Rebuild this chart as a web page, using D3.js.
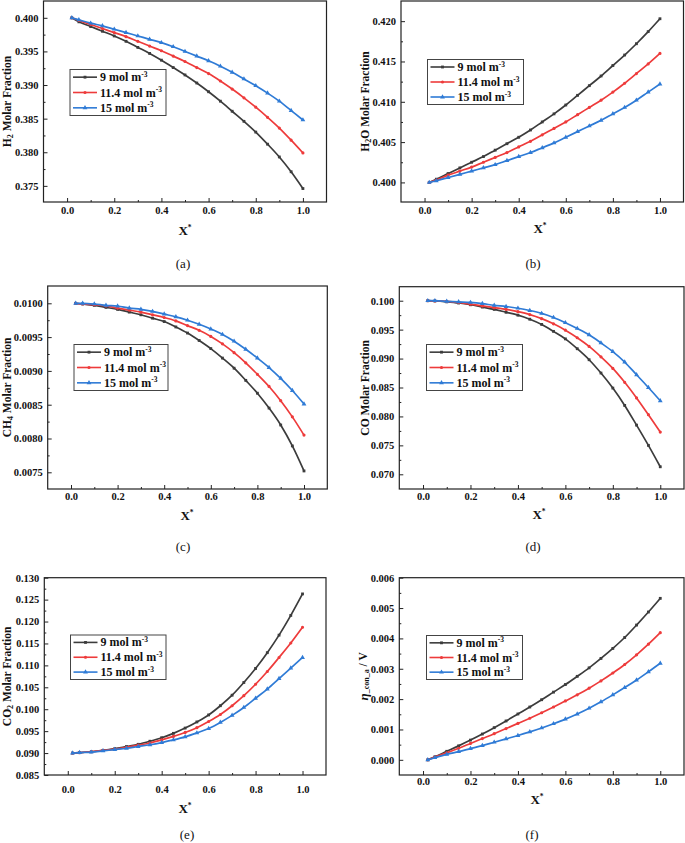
<!DOCTYPE html>
<html>
<head>
<meta charset="utf-8">
<script src="https://cdn.jsdelivr.net/npm/d3@7"></script>
<style>
  body { margin: 0; background: #fff; }
  svg { display: block; }
  text { font-family: "Liberation Serif", "Times New Roman", serif; }
</style>
</head>
<body>
<svg id="chart" width="685" height="843" font-family="Liberation Serif, Times New Roman, serif"></svg>
<script>
// dimensionless position along the channel
const xStar = [0.02, 0.05, 0.10, 0.15, 0.20, 0.25, 0.30, 0.35, 0.40, 0.45, 0.50,
               0.55, 0.60, 0.65, 0.70, 0.75, 0.80, 0.85, 0.90, 0.95, 1.00];

const seriesLabels = ["9 mol m", "11.4 mol m", "15 mol m"];

// (a) H2
const h2_9   = [0.4000, 0.3994, 0.3987, 0.3980, 0.3973, 0.3965, 0.3956, 0.3947, 0.3937, 0.3926, 0.3915,
                0.3903, 0.3890, 0.3876, 0.3861, 0.3846, 0.3830, 0.3812, 0.3793, 0.3771, 0.3746];
const h2_114 = [0.4000, 0.3996, 0.3990, 0.3984, 0.3978, 0.3972, 0.3965, 0.3958, 0.3951, 0.3943, 0.3935,
                0.3926, 0.3917, 0.3906, 0.3894, 0.3881, 0.3867, 0.3852, 0.3836, 0.3818, 0.3799];
const h2_15  = [0.4000, 0.3997, 0.3992, 0.3988, 0.3983, 0.3978, 0.3973, 0.3968, 0.3963, 0.3957, 0.3950,
                0.3943, 0.3936, 0.3928, 0.3919, 0.3909, 0.3899, 0.3888, 0.3876, 0.3862, 0.3848];

// (b) H2O
const h2o_9   = [0.4000, 0.4004, 0.4011, 0.4018, 0.4025, 0.4032, 0.4040, 0.4048, 0.4056, 0.4065, 0.4075,
                 0.4085, 0.4096, 0.4108, 0.4120, 0.4132, 0.4145, 0.4158, 0.4172, 0.4187, 0.4203];
const h2o_114 = [0.4000, 0.4003, 0.4009, 0.4014, 0.4019, 0.4025, 0.4031, 0.4037, 0.4044, 0.4051, 0.4059,
                 0.4067, 0.4075, 0.4084, 0.4093, 0.4102, 0.4112, 0.4123, 0.4135, 0.4147, 0.4160];
const h2o_15  = [0.4000, 0.4002, 0.4006, 0.4010, 0.4014, 0.4018, 0.4022, 0.4027, 0.4032, 0.4037, 0.4043,
                 0.4049, 0.4056, 0.4063, 0.4070, 0.4077, 0.4085, 0.4093, 0.4102, 0.4112, 0.4122];

// (c) CH4
const ch4_9   = [0.01000, 0.00999, 0.00997, 0.00994, 0.00991, 0.00987, 0.00983, 0.00978, 0.00973, 0.00965, 0.00956,
                 0.00945, 0.00933, 0.00919, 0.00904, 0.00886, 0.00867, 0.00845, 0.00820, 0.00789, 0.00752];
const ch4_114 = [0.01000, 0.00999, 0.00998, 0.00996, 0.00993, 0.00990, 0.00987, 0.00983, 0.00979, 0.00974, 0.00967,
                 0.00960, 0.00951, 0.00940, 0.00927, 0.00912, 0.00895, 0.00877, 0.00856, 0.00832, 0.00805];
const ch4_15  = [0.01000, 0.01000, 0.00999, 0.00997, 0.00996, 0.00993, 0.00991, 0.00988, 0.00984, 0.00980, 0.00975,
                 0.00969, 0.00962, 0.00954, 0.00944, 0.00932, 0.00919, 0.00905, 0.00889, 0.00871, 0.00851];

// (d) CO
const co_9   = [0.1000, 0.09995, 0.0998, 0.0996, 0.0993, 0.0989, 0.0985, 0.0980, 0.0975, 0.0968, 0.0959,
                0.0947, 0.0934, 0.0917, 0.0898, 0.0875, 0.0849, 0.0819, 0.0785, 0.0750, 0.0713];
const co_114 = [0.1000, 0.09997, 0.0999, 0.0997, 0.0994, 0.0991, 0.0988, 0.0985, 0.0981, 0.0976, 0.0969,
                0.0960, 0.0949, 0.0936, 0.0921, 0.0903, 0.0883, 0.0859, 0.0832, 0.0803, 0.0773];
const co_15  = [0.1000, 0.1000, 0.0999, 0.0998, 0.0997, 0.0995, 0.0992, 0.0990, 0.0987, 0.0983, 0.0978,
                0.0971, 0.0962, 0.0952, 0.0941, 0.0927, 0.0912, 0.0894, 0.0872, 0.0850, 0.0827];

// (e) CO2
const co2_9   = [0.0900, 0.0901, 0.0903, 0.0906, 0.0910, 0.0915, 0.0920, 0.0927, 0.0935, 0.0945, 0.0957,
                 0.0971, 0.0987, 0.1008, 0.1032, 0.1061, 0.1093, 0.1129, 0.1169, 0.1214, 0.1263];
const co2_114 = [0.0900, 0.0901, 0.0903, 0.0906, 0.0909, 0.0913, 0.0918, 0.0923, 0.0930, 0.0938, 0.0947,
                 0.0958, 0.0972, 0.0988, 0.1008, 0.1031, 0.1057, 0.1086, 0.1118, 0.1151, 0.1187];
const co2_15  = [0.0900, 0.0901, 0.0902, 0.0905, 0.0908, 0.0911, 0.0915, 0.0919, 0.0924, 0.0930, 0.0937,
                 0.0946, 0.0956, 0.0970, 0.0986, 0.1004, 0.1025, 0.1046, 0.1070, 0.1094, 0.1118];

// (f) anode concentration overpotential
const eta_9   = [0.00000, 0.00010, 0.00028, 0.00046, 0.00065, 0.00085, 0.00106, 0.00128, 0.00151, 0.00174, 0.00198,
                 0.00223, 0.00248, 0.00275, 0.00303, 0.00334, 0.00367, 0.00403, 0.00444, 0.00487, 0.00532];
const eta_114 = [0.00000, 0.00009, 0.00023, 0.00038, 0.00054, 0.00070, 0.00086, 0.00103, 0.00120, 0.00137, 0.00155,
                 0.00174, 0.00194, 0.00214, 0.00236, 0.00260, 0.00286, 0.00314, 0.00346, 0.00381, 0.00419];
const eta_15  = [0.00000, 0.00007, 0.00018, 0.00027, 0.00037, 0.00047, 0.00058, 0.00069, 0.00080, 0.00092, 0.00105,
                 0.00119, 0.00134, 0.00151, 0.00170, 0.00191, 0.00214, 0.00238, 0.00263, 0.00290, 0.00318];

const xTicks = [0, 0.2, 0.4, 0.6, 0.8, 1.0];
const xMinor = [0.1, 0.3, 0.5, 0.7, 0.9];

const colors = ["#3c3c3c", "#ee3b3b", "#2f7bd6"];
const symbols = [d3.symbolSquare, d3.symbolCircle, d3.symbolTriangle];

// panel layouts (frame box, y range, label spots)
const panels = [
  { tag: "(a)", series: [h2_9, h2_114, h2_15], l: 43.5, r: 326.5, t: 1, b: 202,
    yDom: [0.3726, 0.4025], yTicks: [0.375, 0.380, 0.385, 0.390, 0.395, 0.400], fmt: ".3f",
    ylab: [["H"], ["2", "sub"], [" Molar Fraction"]], ylabX: 7,
    xPad: 5, xLabY: 230, xLabX: 185, tagX: 183, tagY: 263,
    leg: { x: 70, y: 69.5, w: 96, h: 46 } },
  { tag: "(b)", series: [h2o_9, h2o_114, h2o_15], l: 401, r: 683.5, t: 1, b: 202,
    yDom: [0.39757, 0.4225], yTicks: [0.400, 0.405, 0.410, 0.415, 0.420], fmt: ".3f",
    ylab: [["H"], ["2", "sub"], ["O Molar Fraction"]], ylabX: 365,
    xPad: 5, xLabY: 228, xLabX: 540, tagX: 533, tagY: 263,
    leg: { x: 427.5, y: 59.5, w: 96, h: 45 } },
  { tag: "(c)", series: [ch4_9, ch4_114, ch4_15], l: 47.7, r: 327.3, t: 286, b: 489,
    yDom: [0.007253, 0.010256], yTicks: [0.0075, 0.0080, 0.0085, 0.0090, 0.0095, 0.0100], fmt: ".4f",
    ylab: [["CH"], ["4", "sub"], [" Molar Fraction"]], ylabX: 7,
    xPad: 4, xLabY: 515, xLabX: 187, tagX: 183, tagY: 546,
    leg: { x: 74, y: 344.5, w: 94, h: 46 } },
  { tag: "(d)", series: [co_9, co_114, co_15], l: 399.3, r: 684, t: 286.7, b: 489,
    yDom: [0.06746, 0.10242], yTicks: [0.070, 0.075, 0.080, 0.085, 0.090, 0.095, 0.100], fmt: ".3f",
    ylab: [["CO Molar Fraction"]], ylabX: 365,
    xPad: 4, xLabY: 514, xLabX: 539, tagX: 533, tagY: 546,
    leg: { x: 426.5, y: 344.5, w: 96, h: 46 } },
  { tag: "(e)", series: [co2_9, co2_114, co2_15], l: 44.3, r: 326, t: 577.7, b: 775,
    yDom: [0.085, 0.130], yTicks: [0.085, 0.090, 0.095, 0.100, 0.105, 0.110, 0.115, 0.120, 0.125, 0.130], fmt: ".3f",
    ylab: [["CO"], ["2", "sub"], [" Molar Fraction"]], ylabX: 7,
    xPad: 11, xLabY: 808, xLabX: 185, tagX: 187, tagY: 834,
    leg: { x: 70.5, y: 635, w: 95.5, h: 44.5 } },
  { tag: "(f)", series: [eta_9, eta_114, eta_15], l: 399.3, r: 684, t: 577.7, b: 775,
    yDom: [-0.0005, 0.006], yTicks: [0.000, 0.001, 0.002, 0.003, 0.004, 0.005, 0.006], fmt: ".3f",
    ylab: [["\u03b7", "it"], ["_con_a", "sub"], [" / V"]], ylabX: 363,
    xPad: 3, xLabY: 799, xLabX: 537, tagX: 532, tagY: 834,
    leg: { x: 426.5, y: 635.5, w: 96, h: 44 } }
];

const svg = d3.select("#chart");
const FONT = "Liberation Serif, Times New Roman, serif";

function minorOf(ticks) {
  const out = [];
  for (let i = 0; i < ticks.length - 1; i++) out.push((ticks[i] + ticks[i + 1]) / 2);
  return out;
}

function drawPanel(p) {
  const g = svg.append("g");
  const x = d3.scaleLinear().domain([-0.1, 1.1]).range([p.l, p.r]);
  const y = d3.scaleLinear().domain(p.yDom).range([p.b, p.t]);

  // x axis, ticks pointing inward
  const xa = g.append("g")
      .attr("transform", "translate(0," + p.b + ")")
      .call(d3.axisBottom(x).tickValues(xTicks).tickSizeInner(-4).tickSizeOuter(0)
              .tickPadding(p.xPad).tickFormat(d3.format(".1f")));
  g.append("g")
      .attr("transform", "translate(0," + p.b + ")")
      .call(d3.axisBottom(x).tickValues(xMinor).tickSize(-2).tickFormat(""))
      .select(".domain").remove();

  // y axis
  const ya = g.append("g")
      .attr("transform", "translate(" + p.l + ",0)")
      .call(d3.axisLeft(y).tickValues(p.yTicks).tickSizeInner(-4).tickSizeOuter(0)
              .tickPadding(5).tickFormat(d3.format(p.fmt)));
  g.append("g")
      .attr("transform", "translate(" + p.l + ",0)")
      .call(d3.axisLeft(y).tickValues(minorOf(p.yTicks)).tickSize(-2).tickFormat(""))
      .select(".domain").remove();

  [xa, ya].forEach(a => {
    a.attr("font-family", FONT);
    a.select(".domain").remove();
    a.selectAll("text")
      .attr("font-family", FONT)
      .attr("font-weight", "bold")
      .attr("font-size", 10.5)
      .attr("fill", "#111");
  });
  g.selectAll(".tick line").attr("stroke", "#222").attr("stroke-width", 1);

  // frame
  g.append("rect")
      .attr("x", p.l).attr("y", p.t)
      .attr("width", p.r - p.l).attr("height", p.b - p.t)
      .attr("fill", "none").attr("stroke", "#222").attr("stroke-width", 1.2);

  // curves with markers
  const line = d3.line()
      .x((d, i) => x(xStar[i]))
      .y(d => y(d))
      .curve(d3.curveMonotoneX);

  p.series.forEach((s, k) => {
    g.append("path")
        .datum(s)
        .attr("d", line)
        .attr("fill", "none")
        .attr("stroke", colors[k])
        .attr("stroke-width", 1.7);
    g.selectAll(".m" + k)
      .data(s)
      .enter().append("path")
        .attr("class", "m" + k)
        .attr("transform", (d, i) => "translate(" + x(xStar[i]) + "," + y(d) + ")")
        .attr("d", d3.symbol().type(symbols[k]).size(k === 2 ? 10 : 8))
        .attr("fill", colors[k]);
  });

  // legend
  const L = p.leg;
  const lg = g.append("g");
  lg.append("rect")
      .attr("x", L.x).attr("y", L.y).attr("width", L.w).attr("height", L.h)
      .attr("fill", "#fff").attr("stroke", "#444").attr("stroke-width", 1);
  seriesLabels.forEach((name, k) => {
    const cy = L.y + L.h * (k + 0.5) / 3;
    lg.append("line")
        .attr("x1", L.x + 3).attr("x2", L.x + 27).attr("y1", cy).attr("y2", cy)
        .attr("stroke", colors[k]).attr("stroke-width", 1.6);
    lg.append("path")
        .attr("transform", "translate(" + (L.x + 15) + "," + cy + ")")
        .attr("d", d3.symbol().type(symbols[k]).size(k === 2 ? 10 : 8))
        .attr("fill", colors[k]);
    const t = lg.append("text")
        .attr("x", L.x + 30).attr("y", cy + 4)
        .attr("font-family", FONT)
        .attr("font-weight", "bold").attr("font-size", 12).attr("fill", "#111");
    t.append("tspan").text(name);
    t.append("tspan").attr("dy", -4.5).attr("font-size", 7.5).text("-3");
  });

  // y label
  const yt = g.append("text")
      .attr("transform", "translate(" + p.ylabX + "," + ((p.t + p.b) / 2) + ") rotate(-90)")
      .attr("text-anchor", "middle")
      .attr("dominant-baseline", "central")
      .attr("font-family", FONT)
      .attr("font-weight", "bold").attr("font-size", 11.5).attr("fill", "#111");
  let shifted = false;
  p.ylab.forEach(([txt, kind]) => {
    const ts = yt.append("tspan").text(txt);
    if (kind === "sub") { ts.attr("dy", 3).attr("font-size", 8); shifted = true; }
    else if (shifted) { ts.attr("dy", -3); shifted = false; }
    if (kind === "it") ts.attr("font-style", "italic").attr("font-size", 13);
  });

  // x label
  const xt = g.append("text")
      .attr("x", p.xLabX).attr("y", p.xLabY + 4.5)
      .attr("text-anchor", "middle")
      .attr("font-family", FONT)
      .attr("font-weight", "bold").attr("font-size", 13).attr("fill", "#111");
  xt.append("tspan").text("X");
  xt.append("tspan").attr("dy", -5).attr("font-size", 7.5).text("*");

  // panel tag
  g.append("text")
      .attr("x", p.tagX).attr("y", p.tagY + 4.5)
      .attr("text-anchor", "middle")
      .attr("font-family", FONT)
      .attr("font-size", 13).attr("fill", "#111")
      .text(p.tag);
}

panels.forEach(drawPanel);
</script>
</body>
</html>
